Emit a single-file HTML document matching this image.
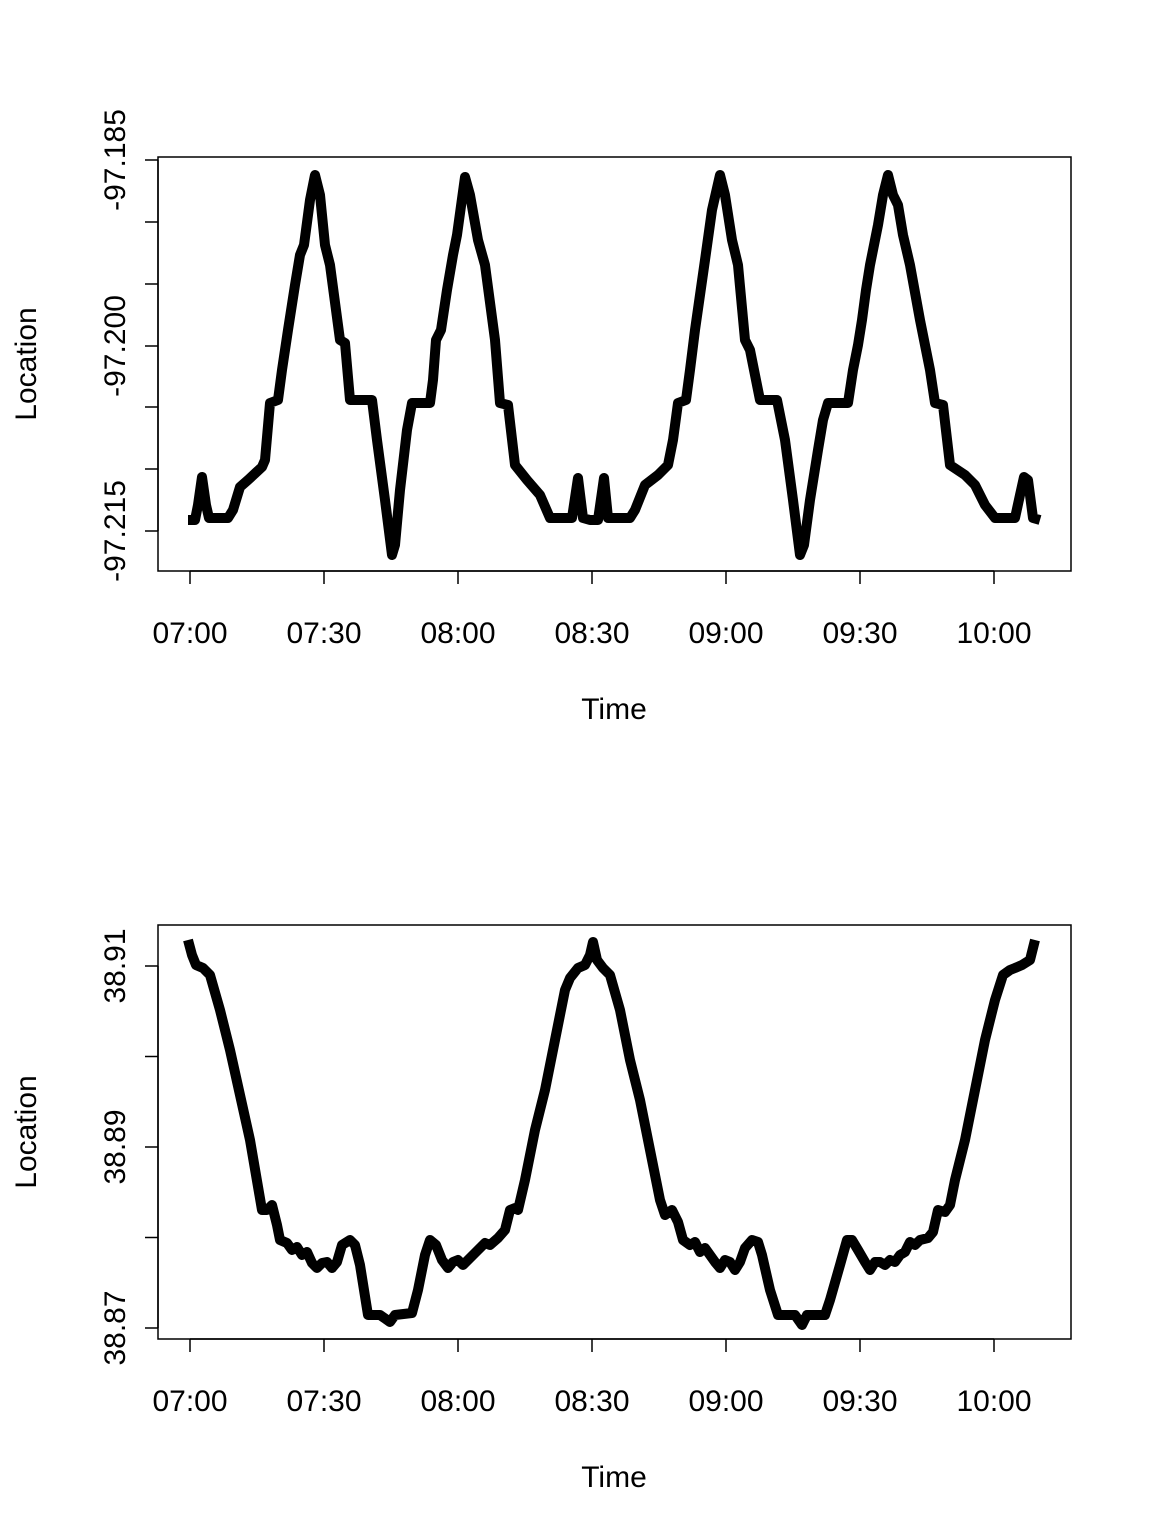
<!DOCTYPE html>
<html><head><meta charset="utf-8"><style>body{margin:0;background:#fff}svg{display:block}</style></head><body>
<svg width="1152" height="1536" xmlns="http://www.w3.org/2000/svg" font-family="Liberation Sans, Arial, sans-serif" font-size="30">
<rect width="1152" height="1536" fill="#fff"/>
<rect x="158" y="157" width="913" height="414" fill="none" stroke="#000" stroke-width="1.5"/>
<g stroke="#000" stroke-width="1.5">
<line x1="190" y1="571" x2="994" y2="571"/>
<line x1="190" y1="571" x2="190" y2="584"/><line x1="324" y1="571" x2="324" y2="584"/><line x1="458" y1="571" x2="458" y2="584"/><line x1="592" y1="571" x2="592" y2="584"/><line x1="726" y1="571" x2="726" y2="584"/><line x1="860" y1="571" x2="860" y2="584"/><line x1="994" y1="571" x2="994" y2="584"/>
<line x1="158" y1="160" x2="158" y2="531"/>
<line x1="145" y1="160" x2="158" y2="160"/><line x1="145" y1="222" x2="158" y2="222"/><line x1="145" y1="284" x2="158" y2="284"/><line x1="145" y1="346" x2="158" y2="346"/><line x1="145" y1="407" x2="158" y2="407"/><line x1="145" y1="469" x2="158" y2="469"/><line x1="145" y1="531" x2="158" y2="531"/>
</g>
<g text-anchor="middle">
<text x="190" y="643">07:00</text><text x="324" y="643">07:30</text><text x="458" y="643">08:00</text><text x="592" y="643">08:30</text><text x="726" y="643">09:00</text><text x="860" y="643">09:30</text><text x="994" y="643">10:00</text>
<text x="614" y="719">Time</text>
<text transform="translate(125,160) rotate(-90)">-97.185</text>
<text transform="translate(125,346) rotate(-90)">-97.200</text>
<text transform="translate(125,531) rotate(-90)">-97.215</text>
<text transform="translate(36,364) rotate(-90)">Location</text>
</g>
<polyline fill="none" stroke="#000" stroke-width="10" stroke-linejoin="round" points="188,520 195,520 198,505 202,477 206,505 209,518 228,518 233,510 240,487 248,480 262,467 265,460 270,403 278,400 282,370 288,330 295,285 300,255 304,245 310,200 315,175 320,195 325,245 330,265 340,340 345,343 350,400 372,400 377,440 385,500 392,555 395,545 400,490 407,430 412,403 430,403 433,380 436,340 441,330 447,290 453,255 457,235 465,177 470,195 478,240 485,265 495,340 500,403 508,405 515,465 527,480 540,495 550,518 572,518 578,478 583,518 590,520 598,520 604,478 608,518 630,518 635,510 645,485 658,475 668,465 673,440 678,403 686,400 690,370 695,330 700,295 705,260 712,210 720,175 725,195 732,240 738,265 745,340 750,350 760,400 777,400 785,440 793,500 800,555 804,545 810,500 818,450 823,420 828,403 848,403 853,370 858,345 862,320 866,290 870,265 878,225 883,195 888,175 893,195 898,205 903,235 910,265 920,320 930,370 935,403 943,405 950,465 965,475 975,485 985,505 995,518 1015,518 1020,495 1024,477 1028,480 1033,518 1040,520"/>
<rect x="158" y="925" width="913" height="414" fill="none" stroke="#000" stroke-width="1.5"/>
<g stroke="#000" stroke-width="1.5">
<line x1="190" y1="1339" x2="994" y2="1339"/>
<line x1="190" y1="1339" x2="190" y2="1352"/><line x1="324" y1="1339" x2="324" y2="1352"/><line x1="458" y1="1339" x2="458" y2="1352"/><line x1="592" y1="1339" x2="592" y2="1352"/><line x1="726" y1="1339" x2="726" y2="1352"/><line x1="860" y1="1339" x2="860" y2="1352"/><line x1="994" y1="1339" x2="994" y2="1352"/>
<line x1="158" y1="966" x2="158" y2="1328"/>
<line x1="145" y1="966" x2="158" y2="966"/><line x1="145" y1="1056.5" x2="158" y2="1056.5"/><line x1="145" y1="1147" x2="158" y2="1147"/><line x1="145" y1="1237.5" x2="158" y2="1237.5"/><line x1="145" y1="1328" x2="158" y2="1328"/>
</g>
<g text-anchor="middle">
<text x="190" y="1411">07:00</text><text x="324" y="1411">07:30</text><text x="458" y="1411">08:00</text><text x="592" y="1411">08:30</text><text x="726" y="1411">09:00</text><text x="860" y="1411">09:30</text><text x="994" y="1411">10:00</text>
<text x="614" y="1487">Time</text>
<text transform="translate(125,966) rotate(-90)">38.91</text>
<text transform="translate(125,1147) rotate(-90)">38.89</text>
<text transform="translate(125,1328) rotate(-90)">38.87</text>
<text transform="translate(36,1132) rotate(-90)">Location</text>
</g>
<polyline fill="none" stroke="#000" stroke-width="10" stroke-linejoin="round" points="188,940 192,955 196,965 203,968 210,975 220,1010 230,1050 240,1095 250,1140 262,1210 267,1210 272,1205 277,1225 280,1240 287,1243 292,1250 297,1247 302,1255 307,1252 312,1263 317,1268 322,1263 327,1262 332,1268 337,1262 342,1245 350,1240 355,1245 360,1265 368,1315 380,1315 390,1322 395,1315 412,1313 418,1290 425,1255 430,1240 436,1245 442,1260 448,1268 453,1262 458,1260 463,1265 470,1258 478,1250 485,1243 490,1245 498,1238 505,1230 510,1210 515,1208 518,1210 525,1180 535,1130 545,1090 555,1040 565,990 570,978 578,968 585,965 590,955 593,942 597,960 603,968 610,975 620,1010 630,1060 640,1100 650,1150 660,1200 665,1215 672,1210 678,1222 683,1240 690,1245 695,1242 700,1252 705,1248 710,1255 715,1262 720,1268 725,1260 730,1262 735,1270 740,1262 745,1248 752,1240 758,1242 762,1255 770,1290 778,1315 795,1315 802,1325 807,1315 825,1315 830,1300 840,1265 847,1240 852,1240 858,1250 865,1262 870,1270 875,1262 880,1262 885,1265 890,1260 895,1262 900,1255 905,1252 910,1242 915,1245 920,1240 928,1238 933,1232 938,1210 945,1212 950,1205 955,1180 965,1140 975,1090 985,1040 995,1000 1003,975 1010,970 1015,968 1022,965 1030,960 1035,940"/>
</svg>
</body></html>
